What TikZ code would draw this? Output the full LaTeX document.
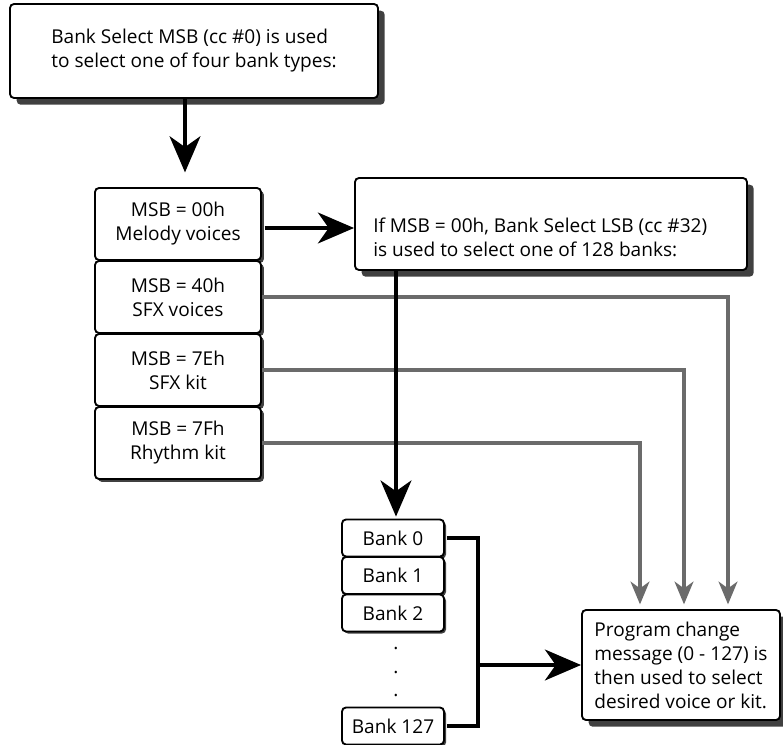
\documentclass[tikz,border=0pt]{standalone}
\usepackage{fontspec}
\setmainfont{Open Sans}
\usetikzlibrary{arrows.meta,shadows}

\definecolor{wiregray}{HTML}{6B6B6B}
\definecolor{shadowgray}{HTML}{404040}

\tikzset{
  box/.style={draw, line width=1.4pt, rounded corners=3pt, fill=white, inner sep=0pt,
    font=\fontsize{14.3}{18}\selectfont, align=center},
  bigbox/.style={box, drop shadow={shadow xshift=5pt, shadow yshift=-5pt, fill=shadowgray, opacity=1}},
  msbbox/.style={box, minimum width=124.5pt, minimum height=54pt,
    drop shadow={shadow xshift=2.2pt, shadow yshift=-2.2pt, fill=shadowgray, opacity=1}},
  bankbox/.style={box, minimum width=76.5pt, minimum height=27.75pt,
    drop shadow={shadow xshift=1.5pt, shadow yshift=-1.5pt, fill=shadowgray, opacity=1}},
  bigarrow/.style={line width=3.5pt, -{Stealth[length=27pt, width=23pt, inset=8pt]}},
  grayarrow/.style={line width=3pt, draw=wiregray, -{Stealth[length=17pt, width=14pt, inset=5pt]}},
  bracket/.style={line width=3.5pt}
}

\begin{document}
\begin{tikzpicture}[x=0.75pt, y=-0.75pt]
  \useasboundingbox (0,0) rectangle (783,744);
  % boxes
  \node[bigbox, minimum width=276pt, minimum height=70.5pt, align=left] (top) at (194,51)
    {Bank Select MSB (cc \#0) is used\\to select one of four bank types:};
  \node[msbbox] (msb1) at (178,224) {MSB = 00h\\Melody voices};
  \node[msbbox] (msb2) at (178,297) {MSB = 40h\\SFX voices};
  \node[msbbox] (msb3) at (178,370) {MSB = 7Eh\\SFX kit};
  \node[msbbox] (msb4) at (178,443) {MSB = 7Fh\\Rhythm kit};
  \node[bigbox, minimum width=294pt, minimum height=69pt] (lsb) at (551,224) {};
  \node[anchor=west, align=left, inner sep=0pt, font=\fontsize{14.3}{18}\selectfont] (lsbtext) at (373,237)
    {If MSB = 00h, Bank Select LSB (cc \#32)\\is used to select one of 128 banks:};
  \node[bigbox, minimum width=148.5pt, minimum height=82.5pt, align=left] (prog) at (681,665)
    {Program change\\message (0 - 127) is\\then used to select\\desired voice or kit.};
  \node[bankbox] (bank0) at (393,538) {Bank 0};
  \node[bankbox] (bank1) at (393,575.5) {Bank 1};
  \node[bankbox] (bank2) at (393,613) {Bank 2};
  \node[font=\fontsize{14.3}{17.5}\selectfont, align=center, inner sep=0pt] (dots) at (396,672) {.\\.\\.};
  \node[bankbox] (bank127) at (393,726) {Bank 127};
  % gray paths
  \coordinate (in1) at ([xshift=-30.75pt]prog.north);
  \coordinate (in2) at ([xshift=2.25pt]prog.north);
  \coordinate (in3) at ([xshift=35.25pt]prog.north);
  \draw[grayarrow, shorten >=3.5pt] (msb2.east) -| (in3);
  \draw[grayarrow, shorten >=3.5pt] (msb3.east) -| (in2);
  \draw[grayarrow, shorten >=3.5pt] (msb4.east) -| (in1);
  % black arrows
  \draw[bigarrow, shorten >=11pt] ([xshift=-6.75pt]top.south) -- ([xshift=-6.75pt]top.south |- msb1.north);
  \draw[bigarrow, shorten <=2pt] ([yshift=-3pt]msb1.east) -- ([yshift=-3pt]msb1.east -| lsb.west);
  \draw[bigarrow, shorten >=1.5pt] ([xshift=2.25pt]bank0.north |- lsb.south) -- ([xshift=2.25pt]bank0.north);
  \coordinate (join) at (478,665);
  \draw[bracket] ([xshift=1.5pt]bank0.east) -| (join) |- ([xshift=1.5pt]bank127.east);
  \draw[bigarrow] (join) -- (join -| prog.west);
\end{tikzpicture}
\end{document}
